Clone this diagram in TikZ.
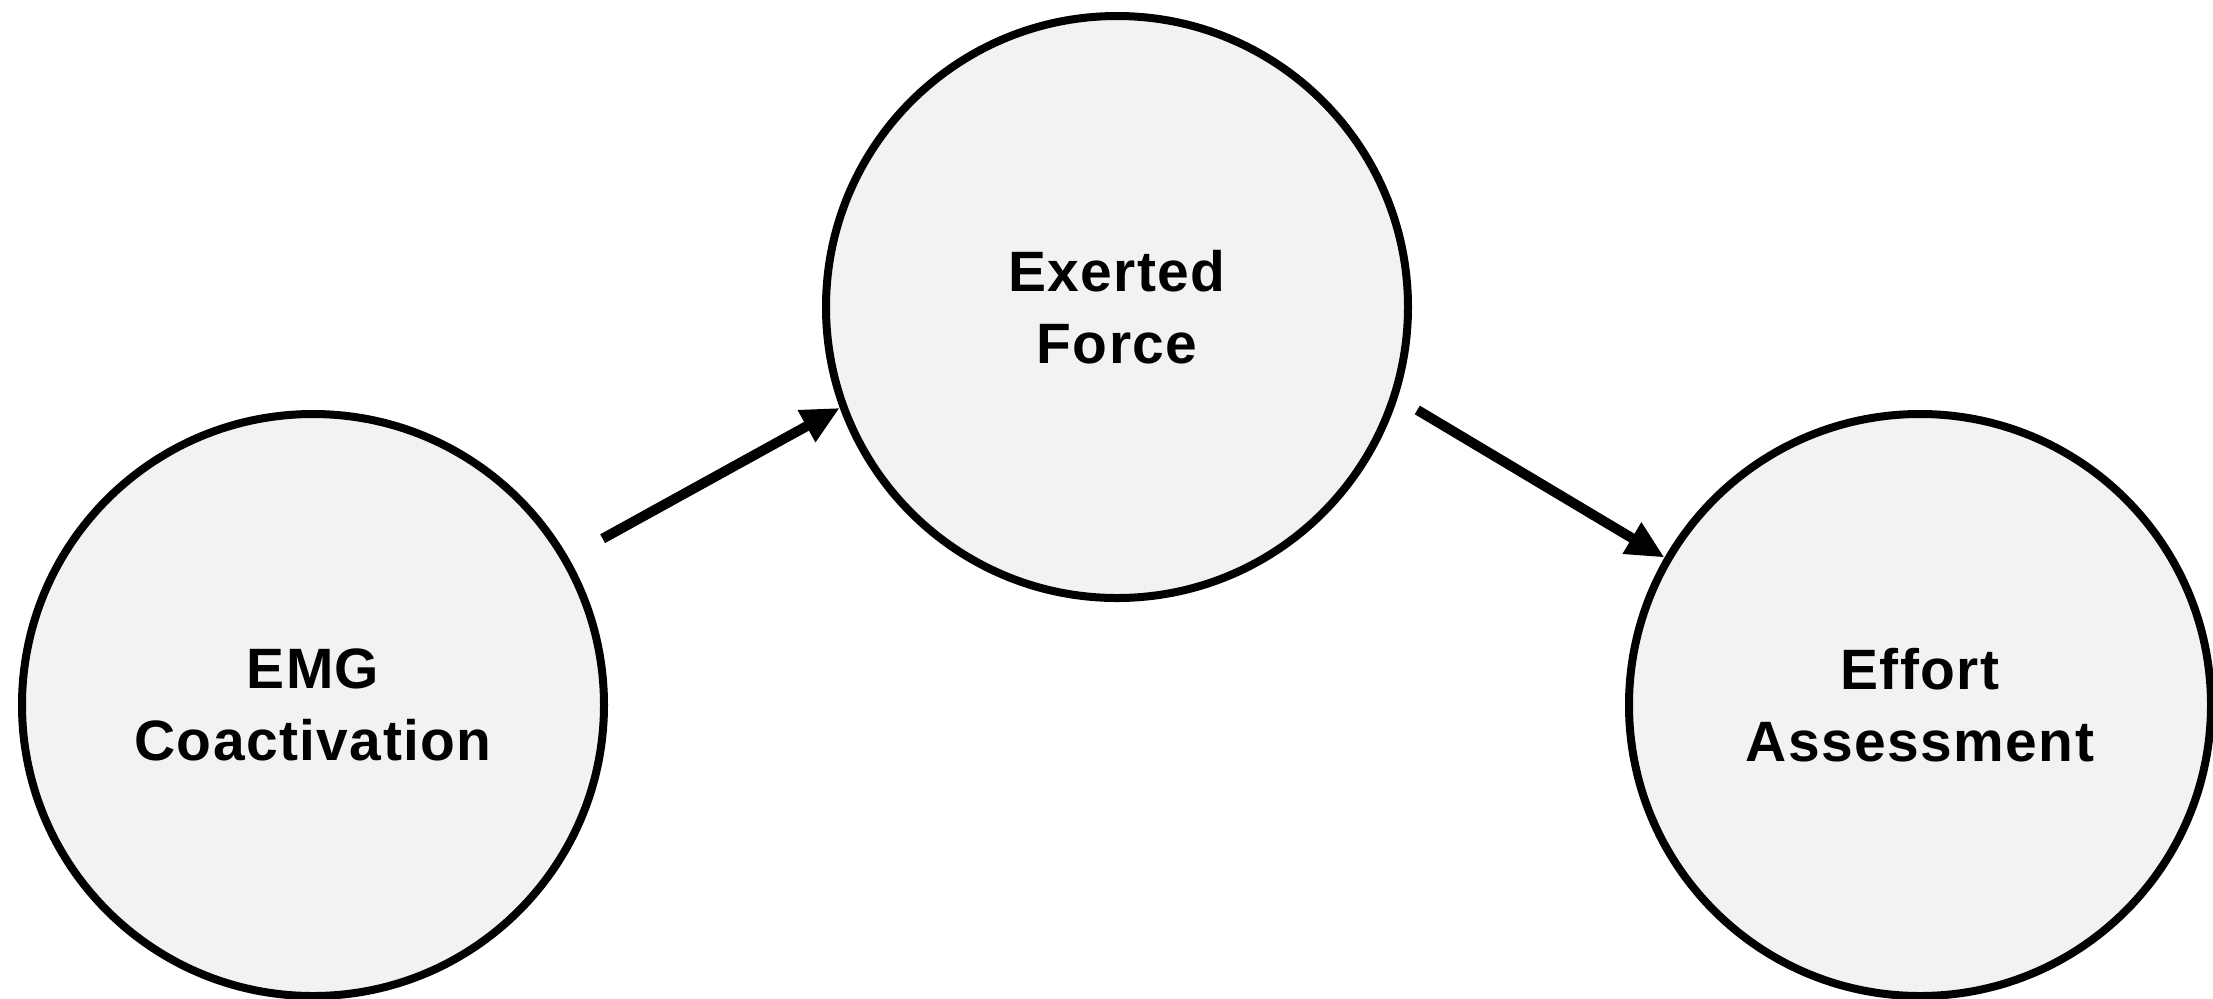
\documentclass[tikz,border=0pt]{standalone}
\usepackage{fontspec}
\setmainfont{Liberation Sans}[LetterSpace=2.5]
\usetikzlibrary{arrows.meta}
\definecolor{cfill}{HTML}{F2F2F2}
\begin{document}
\begin{tikzpicture}[line width=0.08cm,
  font=\bfseries\fontsize{16.2pt}{20.3pt}\selectfont,
  var/.style={circle, draw, fill=cfill, minimum size=5.82cm, inner sep=0pt, align=center},
  link/.style={line width=0.1cm, -{Triangle[length=0.38cm, width=0.34cm]}}]
  \useasboundingbox (0,0) rectangle (22.13,-9.98);
  % 세 변수: 왼쪽 아래, 가운데 위, 오른쪽 아래
  \node[var] (emg) at (3.13,-7.05) {EMG\\Coactivation};
  \node[var] (force) at (11.17,-3.07) {Exerted\\Force};
  \node[var] (effort) at (19.2,-7.05) {Effort\\Assessment};
  % 화살표는 원 테두리에서 떨어져 시작한다
  \draw[link, shorten <=0.39cm] (emg.30) -- (force.200);
  \draw[link, shorten <=0.23cm] (force.342) -- (effort.150);
\end{tikzpicture}
\end{document}
